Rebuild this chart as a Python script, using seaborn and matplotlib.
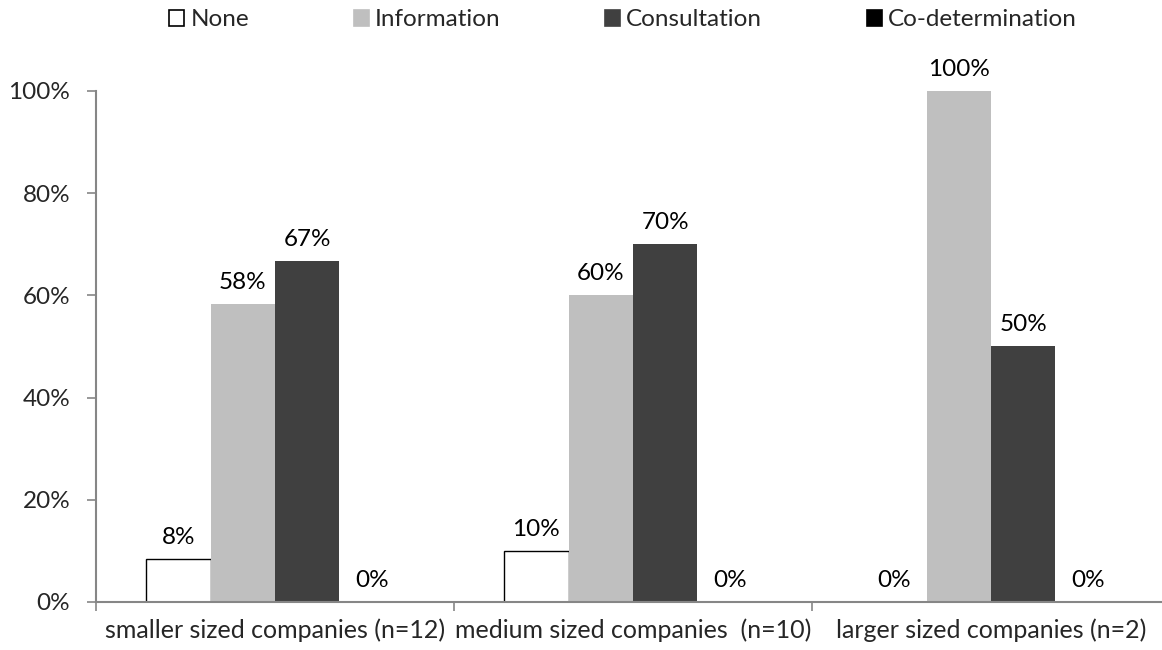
import numpy as np
import pandas as pd
import matplotlib
matplotlib.use("Agg")
import matplotlib.pyplot as plt
import seaborn as sns
from matplotlib.patches import Patch

# Share of companies per participation level
categories = [
    "smaller sized companies (n=12)",
    "medium sized companies  (n=10)",
    "larger sized companies (n=2)",
]
levels = ["None", "Information", "Consultation", "Co-determination"]
none_vals = [8.33, 10.0, 0.0]
information_vals = [58.33, 60.0, 100.0]
consultation_vals = [66.67, 70.0, 50.0]
codetermination_vals = [0.0, 0.0, 0.0]
y_ticks = [0, 20, 40, 60, 80, 100]

colors = ["#ffffff", "#bfbfbf", "#404040", "#000000"]

rows = []
for level, vals in zip(levels, [none_vals, information_vals, consultation_vals, codetermination_vals]):
    for cat, v in zip(categories, vals):
        rows.append({"size": cat, "level": level, "share": v})
df = pd.DataFrame(rows)

sns.set_style("white")
plt.rcParams["font.family"] = ["Lato", "DejaVu Sans"]
axis_grey = "#868686"
fs = 17.5

fig = plt.figure(figsize=(11.62, 6.5), dpi=100)
ax = fig.add_axes([96 / 1162, 48 / 650, (1170 - 96) / 1162, (602 - 91) / 650])

sns.barplot(
    data=df, x="size", y="share", hue="level", hue_order=levels,
    order=categories, palette=colors, width=0.72, saturation=1,
    legend=False, ax=ax, errorbar=None,
)

for i, cont in enumerate(ax.containers):
    for p in cont:
        if i == 0:
            p.set_edgecolor("black")
            p.set_linewidth(1.0)
        else:
            p.set_edgecolor("none")
    ax.bar_label(cont, labels=[f"{v:.0f}%" for v in cont.datavalues],
                 padding=8, fontsize=fs, color="#000000")

ax.set_ylim(0, 100)
ax.set_xlim(-0.5, 2.5)
ax.set_yticks(y_ticks)
ax.set_yticklabels([f"{t}%" for t in y_ticks], fontsize=fs)
ax.set_xticks(range(len(categories)))
ax.set_xticklabels(categories, fontsize=18)
ax.set_xticks([-0.5, 0.5, 1.5, 2.5], minor=True)
ax.tick_params(axis="x", which="major", bottom=True, length=0, pad=12)
ax.tick_params(axis="x", which="minor", bottom=True, length=6.5, width=1.2,
               color=axis_grey, direction="out")
ax.tick_params(axis="y", left=True, length=6.5, width=1.2, color=axis_grey,
               direction="out", pad=12)
ax.set_xlabel("")
ax.set_ylabel("")

for side in ["top", "right"]:
    ax.spines[side].set_visible(False)
for side in ["left", "bottom"]:
    ax.spines[side].set_color(axis_grey)
    ax.spines[side].set_linewidth(1.5)

handles = [Patch(facecolor=c, edgecolor="black" if i == 0 else c, linewidth=1.2)
           for i, c in enumerate(colors)]
fig.legend(handles, levels, loc="center", bbox_to_anchor=(623 / 1162, 1 - 20 / 650),
           ncol=4, frameon=False, fontsize=fs, handlelength=0.62, handleheight=0.62,
           handletextpad=0.25, columnspacing=4.3)

fig.savefig("out.png", dpi=100)
